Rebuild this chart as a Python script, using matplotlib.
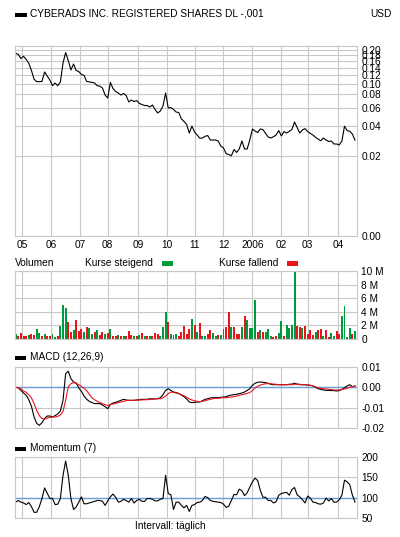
import numpy as np
import pandas as pd
import matplotlib
matplotlib.use("Agg")
import matplotlib.pyplot as plt
from matplotlib.patches import Rectangle

plt.rcParams["font.family"] = ["Liberation Sans", "DejaVu Sans"]
plt.rcParams["font.size"] = 7.3


# ============================================
# Data (one value per second trading day)
# ============================================

days = pd.bdate_range("2005-04-25", "2006-04-21")

month_labels = ["05", "06", "07", "08", "09", "10", "11", "12", "2006", "02", "03", "04"]

price = [
    0.188, 0.184, 0.169, 0.177, 0.166, 0.153, 0.132, 0.110, 0.1045, 0.1045,
    0.105, 0.128, 0.1175, 0.108, 0.0964, 0.1016, 0.096, 0.104, 0.154, 0.191,
    0.162, 0.1335, 0.151, 0.132, 0.129, 0.1215, 0.119, 0.105, 0.104, 0.103,
    0.1016, 0.096, 0.095, 0.0915, 0.0788, 0.074, 0.1027, 0.0905, 0.085, 0.0823,
    0.0788, 0.0815, 0.078, 0.068, 0.0709, 0.0687, 0.070, 0.066, 0.0643, 0.063,
    0.063, 0.061, 0.0637, 0.0578, 0.0535, 0.056, 0.0623, 0.0823, 0.0597, 0.0603,
    0.0578, 0.0547, 0.054, 0.047, 0.0444, 0.0415, 0.0342, 0.040, 0.035, 0.0327,
    0.0303, 0.0305, 0.0317, 0.0323, 0.0291, 0.0291, 0.0291, 0.0284, 0.0252, 0.0241,
    0.021, 0.0205, 0.0199, 0.0232, 0.0216, 0.0235, 0.0284, 0.0235, 0.0235, 0.0291,
    0.0375, 0.0358, 0.0346, 0.0375, 0.037, 0.0339, 0.0312, 0.0305, 0.0314, 0.0327,
    0.0362, 0.032, 0.0354, 0.0342, 0.0356, 0.037, 0.0439, 0.0388, 0.0342, 0.0367,
    0.0378, 0.0354, 0.0339, 0.0327, 0.031, 0.0297, 0.0286, 0.0305, 0.0291, 0.0281,
    0.0284, 0.0265, 0.0265, 0.0259, 0.0284, 0.040, 0.0362, 0.0356, 0.0334, 0.029,
]

# volume in millions, g = Kurse steigend, r = Kurse fallend
volume = [
    0.7, 0.5, 0.9, 0.4, 0.5, 0.6, 0.7, 0.6, 1.4, 0.9,
    0.5, 0.8, 0.4, 0.5, 0.7, 0.3, 0.4, 1.9, 5.0, 4.5,
    2.5, 1.0, 1.3, 2.8, 1.2, 1.4, 1.1, 1.7, 1.6, 0.8,
    1.0, 1.3, 0.6, 1.0, 0.7, 0.9, 1.5, 0.5, 0.4, 0.6,
    0.4, 0.5, 0.4, 1.2, 0.6, 0.5, 0.5, 0.6, 0.9, 0.4,
    0.5, 0.5, 0.5, 0.9, 0.8, 0.5, 1.7, 4.0, 2.5, 0.8,
    0.6, 0.8, 0.5, 1.0, 1.9, 0.7, 1.5, 3.0, 2.0, 1.1,
    2.3, 0.5, 0.4, 0.8, 1.3, 0.9, 0.4, 0.6, 0.6, 1.4,
    1.7, 3.9, 1.7, 1.7, 0.8, 0.8, 1.7, 3.4, 2.8, 1.6,
    1.6, 5.7, 1.0, 1.3, 1.0, 1.0, 1.5, 0.4, 0.3, 0.5,
    0.9, 2.7, 0.5, 2.0, 1.6, 2.0, 10.0, 1.9, 1.8, 1.6,
    1.9, 0.7, 1.3, 0.6, 1.0, 1.3, 1.4, 0.5, 1.3, 0.3,
    0.9, 0.5, 1.2, 0.7, 3.4, 4.9, 0.3, 1.6, 0.8, 1.2,
]
volume_dir = (
    "grrrrgrrgg" "rgrrggrggg" "rrgrrrgrgg" "rgrrgrgrrg" "rgrrrgrgrg"
    "rgrrrgggrg" "rgrrrrrgrg" "rggrrggrgg" "rrgrrrgrgg" "ggrgrgggrr"
    "ggrggggrrg" "rrrrgrrgrr" "ggrrggggrg"
)

# MACD (12,26,9) and signal, in thousandths
macd = [
    0.0, -0.2, -1.5, -2.8, -3.9, -6.1, -9.3, -14.6, -17.7, -18.7,
    -17.4, -15.4, -14.1, -14.1, -14.6, -13.9, -13.1, -11.6, -6.4, 6.7,
    7.9, 4.3, 2.6, 2.1, -0.3, -2.0, -4.3, -5.9, -6.9, -7.5,
    -8.0, -8.0, -8.0, -8.7, -9.5, -10.5, -8.5, -7.7, -7.4, -6.9,
    -6.4, -5.9, -6.2, -6.4, -6.4, -6.4, -6.2, -6.1, -5.9, -5.9,
    -5.9, -5.6, -5.7, -5.6, -5.6, -5.1, -3.6, -1.5, -0.7, -1.5,
    -2.3, -2.6, -3.0, -3.8, -4.6, -5.7, -7.2, -7.5, -7.4, -7.2,
    -7.2, -6.6, -5.9, -5.6, -5.2, -5.1, -5.1, -5.1, -4.9, -4.8,
    -4.6, -4.1, -3.8, -3.6, -3.4, -3.1, -2.8, -2.3, -1.5, -0.7,
    1.0, 2.0, 2.5, 2.6, 2.5, 2.3, 2.0, 1.5, 1.3, 1.3,
    1.3, 1.3, 1.3, 1.3, 1.5, 1.6, 2.0, 1.6, 1.3, 1.3,
    1.3, 1.1, 1.0, 0.7, 0.0, -0.7, -1.0, -1.3, -1.5, -1.5,
    -1.6, -1.6, -1.8, -1.6, -1.0, -0.2, 0.7, 1.3, 0.3, 0.7,
]
signal = [
    0.0, -0.2, -0.7, -1.8, -2.5, -3.6, -5.2, -8.0, -11.3, -13.9,
    -15.4, -15.6, -15.1, -14.8, -14.6, -14.6, -14.3, -13.6, -11.8, -6.4,
    0.2, 1.8, 2.3, 2.0, 1.3, 0.5, -0.5, -1.6, -3.4, -5.1,
    -6.1, -6.9, -7.5, -8.0, -8.5, -8.9, -8.5, -8.2, -7.9, -7.5,
    -7.2, -6.9, -6.6, -6.4, -6.4, -6.4, -6.4, -6.2, -6.2, -6.1,
    -6.1, -5.9, -5.9, -5.7, -5.6, -5.6, -5.1, -4.3, -3.1, -2.3,
    -2.5, -2.8, -3.1, -3.6, -4.1, -4.9, -5.7, -6.2, -6.6, -6.9,
    -7.0, -6.9, -6.6, -6.2, -5.9, -5.6, -5.4, -5.4, -5.2, -5.1,
    -5.1, -4.9, -4.8, -4.6, -4.3, -3.9, -3.6, -3.3, -3.0, -2.5,
    -1.6, -0.3, 0.5, 1.1, 1.5, 1.8, 1.8, 1.8, 1.6, 1.5,
    1.3, 1.3, 1.3, 1.3, 1.3, 1.3, 1.5, 1.5, 1.5, 1.3,
    1.3, 1.1, 1.0, 0.7, 0.2, -0.2, -0.5, -0.7, -0.8, -1.0,
    -1.1, -1.3, -1.3, -1.3, -1.1, -0.8, -0.5, 0.0, 0.3, 0.7,
]

momentum = [
    89, 93, 89, 87, 83, 88, 78, 64, 64, 78,
    98, 124, 111, 98, 98, 83, 84, 98, 155, 190,
    155, 98, 71, 77, 89, 102, 85, 85, 87, 89,
    91, 93, 93, 91, 81, 92, 102, 109, 101, 89,
    91, 96, 93, 89, 98, 87, 93, 96, 91, 91,
    98, 98, 96, 92, 92, 96, 98, 155, 110, 107,
    71, 89, 89, 81, 75, 81, 66, 81, 83, 88,
    89, 93, 103, 100, 93, 91, 90, 89, 88, 84,
    76, 79, 93, 108, 107, 121, 117, 105, 112, 126,
    139, 148, 142, 118, 101, 101, 93, 93, 87, 90,
    106, 110, 112, 113, 106, 120, 125, 107, 102, 95,
    87, 104, 99, 89, 88, 85, 84, 87, 99, 92,
    98, 89, 89, 95, 106, 143, 139, 132, 106, 89,
]


# ============================================
# Layout helpers
# ============================================

W, H = 400, 537
GRID = "#c8c8c8"
GREEN = "#009a3e"
RED = "#e8161b"
BLUE = "#6a9fd8"

x = np.arange(len(price)) * 2
month_idx = np.flatnonzero(days.month != np.roll(days.month, 1))

fig = plt.figure(figsize=(W / 100, H / 100), dpi=100)


def panel(top, bottom):
    ax = fig.add_axes([15 / W, 1 - bottom / H, 342 / W, (bottom - top) / H])
    ax.set_xlim(-0.5, len(days) - 0.5)
    ax.set_xticks(month_idx)
    ax.yaxis.tick_right()
    ax.tick_params(length=0, pad=3, labelbottom=False)
    ax.grid(True, color=GRID, lw=0.8)
    ax.set_axisbelow(True)
    for s in ax.spines.values():
        s.set_color(GRID)
        s.set_linewidth(0.8)
    return ax


def box(x0, y0, x1, y1, color):
    fig.add_artist(Rectangle((x0 / W, 1 - y1 / H), (x1 - x0) / W, (y1 - y0) / H,
                             transform=fig.transFigure, color=color, lw=0))


def label(px, py, s, ha="left"):
    fig.text(px / W, 1 - py / H, s, ha=ha, va="center")


# ============================================
# Price
# ============================================

ax1 = panel(46, 236)
ax1.set_yscale("function", functions=(lambda v: np.log1p(np.clip(v, 0, None) / 0.005),
                                      lambda u: 0.005 * np.expm1(u)))
ax1.set_ylim(0, 0.2185)
ticks = np.arange(0, 0.201, 0.02)
ax1.set_yticks(ticks)
ax1.set_yticklabels([f"{t:.2f}" for t in ticks])
ax1.minorticks_off()
ax1.plot(x, price, color="black", lw=0.8)
ax1.tick_params(labelbottom=True, pad=3)
ax1.set_xticklabels(month_labels)

box(15, 13, 27, 17, "black")
label(30, 14, "CYBERADS INC. REGISTERED SHARES DL -,001")
label(392, 14, "USD", ha="right")


# ============================================
# Volume
# ============================================

ax2 = panel(271, 339)
ax2.set_ylim(0, 10)
ax2.set_yticks([0, 2, 4, 6, 8, 10])
ax2.set_yticklabels(["0", "2 M", "4 M", "6 M", "8 M", "10 M"])
colors = [GREEN if c == "g" else RED for c in volume_dir]
ax2.bar(x, volume, width=1.5, color=colors, lw=0)

label(15, 262.5, "Volumen")
label(85, 262.5, "Kurse steigend")
box(162, 260.5, 173, 265.5, GREEN)
label(219, 262.5, "Kurse fallend")
box(287, 260.5, 298, 265.5, RED)


# ============================================
# MACD
# ============================================

ax3 = panel(367, 428)
ax3.set_ylim(-0.02, 0.01)
ax3.set_yticks([0.01, 0.0, -0.01, -0.02])
ax3.set_yticklabels(["0.01", "0.00", "-0.01", "-0.02"])
ax3.axhline(0, color=BLUE, lw=1)
ax3.plot(x, np.array(macd) / 1000, color="black", lw=0.8)
ax3.plot(x, np.array(signal) / 1000, color=RED, lw=0.8)

box(15, 356, 26, 360, "black")
label(30, 357.5, "MACD (12,26,9)")


# ============================================
# Momentum
# ============================================

ax4 = panel(457, 518)
ax4.set_ylim(50, 200)
ax4.set_yticks([50, 100, 150, 200])
ax4.axhline(100, color=BLUE, lw=1)
ax4.plot(x, momentum, color="black", lw=0.8)

box(15, 446.5, 26, 450.5, "black")
label(30, 448, "Momentum (7)")
label(170, 526, "Intervall: täglich", ha="center")

fig.savefig("out.png", dpi=100)
